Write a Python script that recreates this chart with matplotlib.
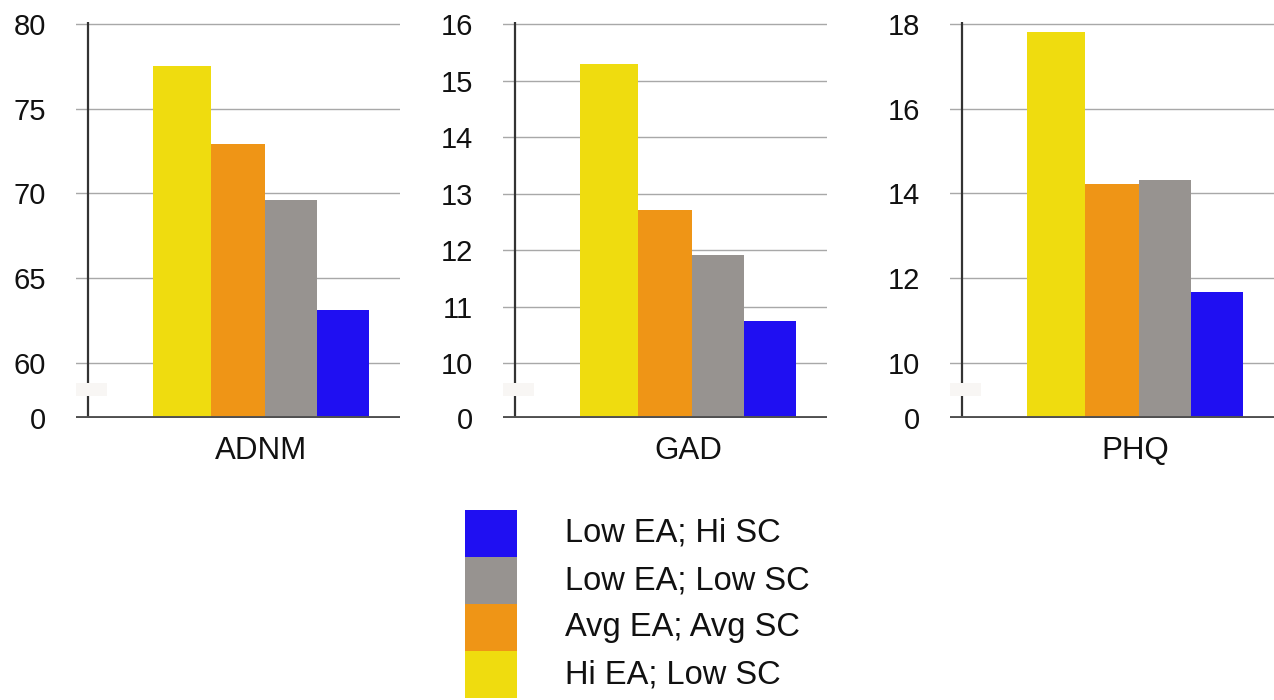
import matplotlib
matplotlib.use('Agg')
import matplotlib.pyplot as plt
import numpy as np
from matplotlib.patches import Rectangle

plt.rcParams['font.family'] = ['Liberation Sans', 'DejaVu Sans']

# Data
groups = ['Hi EA; Low SC', 'Avg EA; Avg SC', 'Low EA; Low SC', 'Low EA; Hi SC']
colors = ['#EFDC0F', '#EF9516', '#979390', '#1F0FF2']
measures = ['ADNM', 'GAD', 'PHQ']
adnm = [77.5, 72.9, 69.6, 63.1]
gad = [15.3, 12.7, 11.92, 10.75]
phq = [17.8, 14.23, 14.33, 11.68]
adnm_ticks = [60, 65, 70, 75, 80]
gad_ticks = [10, 11, 12, 13, 14, 15, 16]
phq_ticks = [10, 12, 14, 16, 18]

W, H = 1274, 700
fig = plt.figure(figsize=(W / 100, H / 100), dpi=100, facecolor='white')

panel_left = [76, 503, 950]
panel_width = 324
base_px = 418
top_px = 22
bar_px = 54.0
# slightly uneven bar widths, as in the original
bar_w = np.array([58, 54, 52, 52]) / bar_px
bar_x = np.concatenate([[-0.5], -0.5 + np.cumsum(bar_w)[:-1]])
TEXT = '#111111'

for i, (name, vals, ticks) in enumerate(zip(measures, [adnm, gad, phq],
                                            [adnm_ticks, gad_ticks, phq_ticks])):
    ax = fig.add_axes([panel_left[i] / W, (H - base_px) / H,
                       panel_width / W, (base_px - top_px) / H])
    low, top = ticks[0], ticks[-1]
    upp = (top - low) / 339.0  # data units per pixel
    floor = low - 55 * upp
    x_left = -0.5 - 77 / bar_px
    ax.set_xlim(x_left, x_left + panel_width / bar_px)
    ax.set_ylim(floor, top + 2 * upp)
    for s in ax.spines.values():
        s.set_visible(False)

    # grid
    for t in ticks:
        ax.axhline(t, color='#a8a8a8', lw=1.0, zorder=1)

    # bars (broken axis: start at the "0" floor)
    ax.bar(bar_x, [v - floor for v in vals], bottom=floor, width=bar_w,
           align='edge', color=colors, edgecolor='none', zorder=2)

    # y axis line with break
    yx = x_left + 12 / bar_px
    ax.plot([yx, yx], [floor, top + 2 * upp], color='#333333', lw=1.6,
            zorder=3, solid_capstyle='butt')
    ax.add_patch(Rectangle((yx - 18 / bar_px, floor + 22 * upp), 37 / bar_px,
                           13 * upp, facecolor='#f8f6f4', edgecolor='none',
                           zorder=4))
    ax.axhline(floor, color='#505050', lw=2.8, zorder=5)

    ax.set_yticks([floor] + ticks)
    ax.set_yticklabels(['0'] + [str(t) for t in ticks])
    ax.tick_params(axis='y', length=0, pad=21.5, labelsize=21, labelcolor=TEXT)
    ax.set_xticks([1.5])
    ax.set_xticklabels([name])
    ax.tick_params(axis='x', length=0, pad=13, labelsize=22.5, labelcolor=TEXT)

# legend
lax = fig.add_axes([465 / W, (H - 698) / H, 52 / W, 188 / H])
lax.set_xlim(-0.5, 0.5)
lax.set_ylim(0, len(groups))
lax.bar([0] * len(groups), [1] * len(groups), bottom=range(len(groups)),
        width=1.0, color=colors, edgecolor='none')
lax.axis('off')
for k, g in enumerate(groups):
    lax.text(100 / 52, (k + 0.5) / len(groups), g, transform=lax.transAxes,
             ha='left', va='center', fontsize=23.5, color=TEXT)

fig.savefig('out.png', dpi=100, facecolor='white')
plt.close(fig)
